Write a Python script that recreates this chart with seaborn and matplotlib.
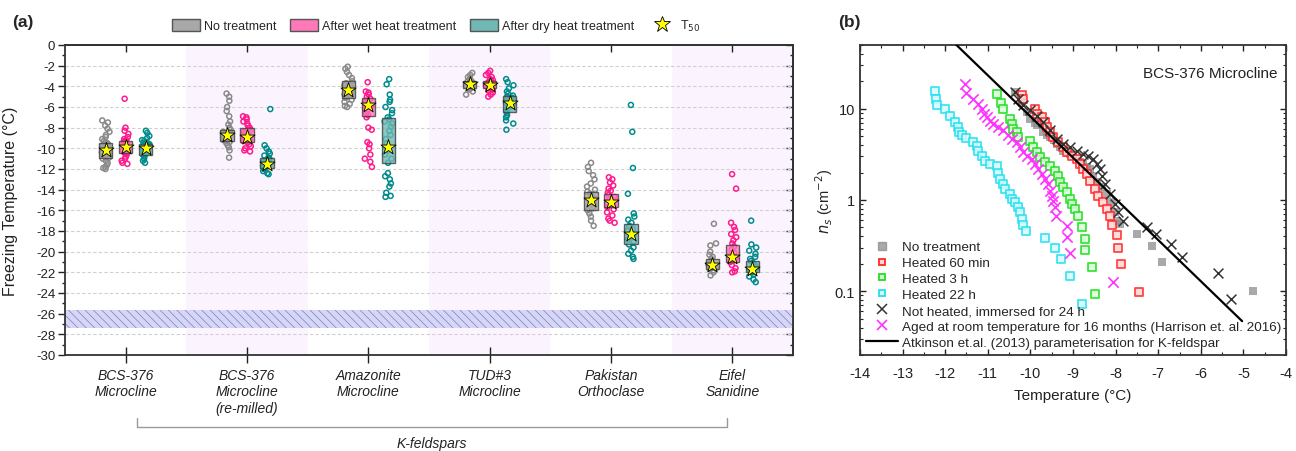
import numpy as np
import pandas as pd
import matplotlib
matplotlib.use("Agg")
import matplotlib.pyplot as plt
import seaborn as sns
from matplotlib.patches import Patch
from matplotlib.lines import Line2D
from matplotlib.ticker import MultipleLocator, FixedLocator, NullFormatter, LogLocator, FuncFormatter

sns.set_theme(style="ticks")
plt.rcParams["font.family"] = ["Liberation Sans", "DejaVu Sans"]
plt.rcParams["axes.unicode_minus"] = False
plt.rcParams["hatch.linewidth"] = 0.5
plt.rcParams["hatch.color"] = "#7878A8"

# ---------------- Panel (a) data ----------------
categories = ["BCS-376\nMicrocline", "BCS-376\nMicrocline\n(re-milled)", "Amazonite\nMicrocline",
              "TUD#3\nMicrocline", "Pakistan\nOrthoclase", "Eifel\nSanidine"]
treatments = ["No treatment", "After wet heat treatment", "After dry heat treatment"]

no_treatment = [
    [-7.3, -7.5, -7.8, -8.1, -8.4, -8.7, -8.9, -9.1, -9.3, -9.4, -9.5, -9.6, -9.7, -9.8, -9.9, -10.0,
     -10.1, -10.2, -10.3, -10.4, -10.5, -10.6, -10.7, -10.8, -10.9, -11.0, -11.2, -11.4, -11.6, -11.8, -11.9, -12.0],
    [-4.7, -5.0, -5.4, -6.0, -6.4, -6.9, -7.4, -7.7, -8.0, -8.2, -8.4, -8.5, -8.6, -8.7, -8.8, -8.9,
     -9.0, -9.1, -9.2, -9.3, -9.4, -9.5, -9.7, -9.9, -10.2, -10.9],
    [-2.1, -2.3, -2.6, -2.9, -3.2, -3.5, -3.7, -3.9, -4.0, -4.2, -4.3, -4.4, -4.5, -4.6, -4.7, -4.8,
     -4.9, -5.0, -5.1, -5.3, -5.5, -5.7, -5.9, -6.0],
    [-2.7, -2.9, -3.1, -3.3, -3.4, -3.5, -3.6, -3.7, -3.8, -3.8, -3.9, -4.0, -4.0, -4.1, -4.2, -4.3, -4.5, -4.8],
    [-11.4, -11.8, -12.2, -12.6, -13.0, -13.4, -13.7, -14.0, -14.2, -14.4, -14.6, -14.8, -14.9, -15.0,
     -15.1, -15.2, -15.4, -15.6, -15.8, -16.0, -16.3, -16.6, -17.0, -17.5],
    [-17.3, -19.2, -19.4, -20.0, -20.3, -20.5, -20.7, -20.9, -21.0, -21.1, -21.2, -21.3, -21.4, -21.5,
     -21.6, -21.7, -21.8, -22.0, -22.3],
]
wet_heat = [
    [-5.2, -8.0, -8.3, -8.6, -8.9, -9.1, -9.2, -9.3, -9.4, -9.5, -9.6, -9.7, -9.8, -9.9, -10.0, -10.1,
     -10.2, -10.3, -10.4, -10.5, -10.6, -10.8, -11.0, -11.2, -11.4, -11.5],
    [-6.9, -7.0, -7.2, -7.4, -7.6, -7.8, -8.0, -8.2, -8.4, -8.5, -8.6, -8.7, -8.8, -8.9, -9.0, -9.1,
     -9.2, -9.3, -9.4, -9.6, -9.8, -10.0, -10.2, -10.3],
    [-3.6, -4.5, -4.6, -4.8, -5.0, -5.2, -5.4, -5.5, -5.6, -5.7, -5.8, -5.9, -6.0, -6.2, -6.4, -6.6,
     -6.8, -7.0, -8.0, -8.2, -9.4, -9.6, -10.0, -10.6, -11.0, -11.3, -11.8],
    [-2.5, -2.7, -2.9, -3.1, -3.3, -3.4, -3.5, -3.6, -3.7, -3.8, -3.9, -4.0, -4.1, -4.2, -4.3, -4.4,
     -4.6, -4.8, -5.0],
    [-12.8, -13.0, -13.3, -13.6, -13.9, -14.1, -14.3, -14.5, -14.7, -14.9, -15.0, -15.1, -15.3, -15.5,
     -15.7, -15.9, -16.2, -16.5, -16.8, -17.0, -17.2],
    [-12.5, -13.9, -17.2, -17.6, -17.9, -18.3, -18.6, -18.9, -19.2, -19.5, -19.8, -20.1, -20.4, -20.6,
     -20.8, -21.0, -21.3, -21.6, -21.9, -22.0],
]
dry_heat = [
    [-8.3, -8.5, -8.8, -9.0, -9.2, -9.3, -9.4, -9.5, -9.6, -9.7, -9.8, -9.9, -10.0, -10.1, -10.2, -10.3,
     -10.4, -10.5, -10.6, -10.7, -10.8, -11.0, -11.2, -11.4],
    [-6.2, -9.7, -10.0, -10.3, -10.5, -10.7, -10.9, -11.0, -11.1, -11.2, -11.3, -11.4, -11.5, -11.6,
     -11.7, -11.8, -11.9, -12.0, -12.2, -12.4, -12.5],
    [-3.3, -3.8, -4.8, -5.3, -5.5, -6.0, -6.3, -6.6, -7.0, -7.2, -7.4, -7.6, -7.9, -8.3, -8.7, -9.1,
     -9.5, -9.9, -10.2, -10.6, -11.0, -11.4, -12.4, -12.7, -13.0, -13.4, -13.7, -14.3, -14.6, -14.7],
    [-3.3, -3.6, -3.9, -4.2, -4.5, -4.7, -4.9, -5.0, -5.1, -5.3, -5.4, -5.5, -5.6, -5.7, -5.8, -5.9,
     -6.0, -6.2, -6.4, -6.6, -6.8, -7.0, -7.3, -7.6, -8.2],
    [-5.8, -8.4, -11.9, -14.4, -16.3, -16.6, -16.9, -17.2, -17.5, -17.8, -18.0, -18.2, -18.4, -18.6,
     -18.8, -19.0, -19.3, -19.6, -19.9, -20.2, -20.5, -20.7],
    [-17.0, -19.3, -19.6, -19.9, -20.2, -20.5, -20.7, -20.9, -21.1, -21.3, -21.5, -21.6, -21.7, -21.8,
     -21.9, -22.0, -22.2, -22.4, -22.7, -22.95],
]

# box upper / lower edges and T50 for each treatment
box_upper_none = [-9.5, -8.2, -3.5, -3.5, -14.2, -20.7]
box_lower_none = [-10.95, -9.3, -5.1, -4.2, -15.95, -21.7]
box_upper_wet = [-9.3, -8.0, -5.1, -3.5, -14.4, -19.4]
box_lower_wet = [-10.45, -9.4, -6.9, -4.2, -15.7, -21.0]
box_upper_dry = [-9.6, -10.9, -7.1, -4.9, -17.3, -20.9]
box_lower_dry = [-10.6, -11.9, -11.4, -6.5, -19.3, -22.0]
t50_none = [-10.2, -8.7, -4.4, -3.8, -15.0, -21.3]
t50_wet = [-9.9, -8.9, -5.8, -3.9, -15.2, -20.5]
t50_dry = [-10.0, -11.5, -9.9, -5.6, -18.3, -21.7]

band_low, band_high = -27.4, -25.6

# ---------------- Panel (b) data ----------------
none_T = [-10.36, -10.2, -10.09, -10.0, -9.9, -9.85, -9.7, -9.6, -9.54, -9.45, -9.38, -9.3, -9.23, -9.15,
          -9.07, -8.99, -8.91, -8.83, -8.76, -8.68, -8.6, -8.52, -8.44, -8.33, -8.21, -8.09, -8.01, -7.97,
          -7.9, -7.5, -7.15, -6.92, -4.77]
none_ns = [15.4, 11.5, 9.2, 7.8, 7.0, 6.6, 5.55, 5.1, 4.88, 4.5, 4.1, 3.8, 3.48, 3.3, 3.2, 3.0, 2.82, 2.6,
           2.48, 2.3, 2.2, 1.85, 1.57, 1.38, 1.16, 0.94, 0.73, 0.59, 0.55, 0.42, 0.31, 0.21, 0.10]
h60_T = [-10.2, -10.17, -9.89, -9.85, -9.73, -9.66, -9.62, -9.54, -9.46, -9.35, -9.23, -9.15, -9.03, -8.91,
         -8.84, -8.76, -8.68, -8.6, -8.48, -8.41, -8.29, -8.2, -8.13, -8.09, -7.97, -7.94, -7.88, -7.45]
h60_ns = [14.3, 12.9, 10, 8.8, 8.1, 7.1, 6.3, 5.55, 4.88, 4.3, 3.8, 3.35, 3.07, 2.82, 2.48, 2.2, 1.93, 1.63,
          1.32, 1.11, 0.94, 0.80, 0.67, 0.53, 0.41, 0.30, 0.20, 0.099]
h3_T = [-10.79, -10.7, -10.64, -10.48, -10.44, -10.4, -10.32, -10.28, -10.0, -9.93, -9.85, -9.77, -9.66,
        -9.54, -9.42, -9.35, -9.31, -9.23, -9.15, -9.07, -9.03, -8.95, -8.88, -8.8, -8.72, -8.72, -8.56, -8.48]
h3_ns = [14.6, 11.6, 10, 7.8, 6.8, 6.0, 5.55, 4.88, 4.45, 3.8, 3.35, 2.95, 2.6, 2.38, 2.1, 1.85, 1.57, 1.38,
         1.22, 1.03, 0.91, 0.80, 0.67, 0.50, 0.37, 0.28, 0.185, 0.093]
h22_T = [-12.24, -12.22, -12.2, -12.0, -11.89, -11.77, -11.69, -11.67, -11.61, -11.5, -11.34, -11.26,
         -11.22, -11.14, -11.07, -10.96, -10.79, -10.75, -10.71, -10.65, -10.6, -10.48, -10.44, -10.36,
         -10.28, -10.24, -10.2, -10.17, -10.1, -9.66, -9.42, -9.28, -9.07, -8.8]
h22_ns = [15.5, 12.9, 11.0, 10.0, 8.4, 7.1, 6.3, 5.55, 5.1, 4.76, 4.3, 3.95, 3.48, 3.07, 2.7, 2.48, 2.38,
          2.0, 1.7, 1.5, 1.32, 1.16, 1.03, 0.94, 0.83, 0.73, 0.62, 0.53, 0.46, 0.38, 0.30, 0.225, 0.148, 0.072]
imm_T = [-10.36, -10.28, -10.17, -10.0, -9.85, -9.7, -9.54, -9.38, -9.23, -9.07, -8.91, -8.76, -8.64,
         -8.52, -8.44, -8.37, -8.33, -8.25, -8.13, -8.01, -7.94, -7.82, -7.27, -7.04, -6.71, -6.45, -5.59, -5.29]
imm_ns = [15.2, 12.9, 10.9, 9.6, 8.4, 7.1, 5.8, 4.7, 4.1, 3.8, 3.48, 3.2, 3.07, 2.82, 2.48, 2.2, 1.85, 1.5,
          1.16, 0.91, 0.73, 0.59, 0.50, 0.42, 0.33, 0.24, 0.16, 0.083]
aged_T = [-11.54, -11.5, -11.34, -11.22, -11.14, -11.1, -11.03, -10.95, -10.87, -10.75, -10.64, -10.52,
          -10.44, -10.32, -10.24, -10.17, -10.09, -9.97, -9.89, -9.81, -9.73, -9.66, -9.58, -9.54, -9.5,
          -9.46, -9.42, -9.4, -9.15, -9.13, -9.08, -8.05]
aged_ns = [18.8, 15, 12.9, 11.4, 10, 8.8, 8.1, 7.4, 6.8, 6.3, 5.78, 5.1, 4.7, 4.3, 3.8, 3.35, 3.07, 2.82,
           2.48, 2.2, 1.93, 1.7, 1.5, 1.27, 1.11, 0.98, 0.83, 0.67, 0.52, 0.39, 0.26, 0.127]
atk_T = [-12.0, -5.03]
atk_ns = [65.8, 0.047]

# ---------------- Figure ----------------
fig = plt.figure(figsize=(12.96, 4.52), dpi=100)
axa = fig.add_axes([65 / 1296, 1 - 356 / 452, 728 / 1296, 310 / 452])
axb = fig.add_axes([860 / 1296, 1 - 356 / 452, 426 / 1296, 310 / 452])

point_colors = {"No treatment": "#8A8A8A", "After wet heat treatment": "#FF1A8C",
                "After dry heat treatment": "#008B8B"}
box_colors = {"No treatment": "#A8A8A8", "After wet heat treatment": "#FF78B8",
              "After dry heat treatment": "#6FB8B4"}
offsets = [-0.165, 0.0, 0.165]

# background shading for alternate categories
for i in range(len(categories)):
    if i % 2 == 1:
        axa.axvspan(i - 0.5, i + 0.5, color="#FBF4FE", zorder=0, lw=0)
axa.axhspan(band_low, band_high, facecolor="#D6D6F8", edgecolor="#8080B0", hatch="\\\\\\\\", lw=0, zorder=1)

rows = []
for t, series, off in zip(treatments, [no_treatment, wet_heat, dry_heat], offsets):
    for i, vals in enumerate(series):
        for v in vals:
            rows.append((round(i + off, 3), v, t))
df = pd.DataFrame(rows, columns=["pos", "temp", "treatment"])

n_before = len(axa.collections)
np.random.seed(7)
sns.stripplot(data=df, x="pos", y="temp", hue="treatment", hue_order=treatments, palette=point_colors,
              native_scale=True, orient="x", jitter=0.2, size=3.6, linewidth=1.1, ax=axa,
              legend=False, zorder=3)
for coll in axa.collections[n_before:]:
    fc = coll.get_facecolors()
    if len(fc):
        coll.set_edgecolors(fc)
        coll.set_facecolors("none")

uppers = [box_upper_none, box_upper_wet, box_upper_dry]
lowers = [box_lower_none, box_lower_wet, box_lower_dry]
t50s = [t50_none, t50_wet, t50_dry]
xpos = np.arange(len(categories))
for t, up, lo, off in zip(treatments, uppers, lowers, offsets):
    up = np.array(up); lo = np.array(lo)
    axa.bar(xpos + off, up - lo, bottom=lo, width=0.11, facecolor=box_colors[t], alpha=0.8,
            edgecolor="#404040", linewidth=1.0, zorder=4)
for t50, off in zip(t50s, offsets):
    sns.scatterplot(x=xpos + off, y=t50, marker="*", s=130, color="#FFFF00", edgecolor="black",
                    linewidth=0.6, zorder=5, ax=axa, legend=False)

axa.set_xlim(-0.5, 5.5)
axa.set_ylim(-30, 0)
axa.yaxis.set_minor_locator(MultipleLocator(1))
axa.set_yticks(np.arange(-30, 1, 2))
axa.set_yticklabels([f"{v}" for v in range(-30, 1, 2)])
axa.set_xticks(xpos)
axa.set_xticklabels(categories, fontsize=10, fontstyle="italic", color="#222222")
axa.tick_params(axis="x", direction="inout", length=11, width=1.0, pad=4, colors="#222222")
axa.tick_params(axis="y", which="major", direction="out", length=5, width=1.0, labelsize=9.5, pad=2,
                colors="#222222")
axa.tick_params(axis="y", which="minor", direction="out", length=2.5, width=1.0, colors="#222222")
axa.set_xlabel("")
axa.set_ylabel("Freezing Temperature (°C)", fontsize=11.5, color="#222222")
axa.yaxis.set_label_coords(-0.064, 0.5)
for y in range(-28, 0, 2):
    axa.axhline(y, color="#D0D0D0", lw=0.8, ls=(0, (3, 2)), zorder=0.5)
for sp in axa.spines.values():
    sp.set_color("#333333"); sp.set_linewidth(1.3)

sec_top = axa.secondary_xaxis("top")
sec_top.set_xticks(xpos)
sec_top.tick_params(direction="in", length=5, width=1.0, labeltop=False, colors="#222222")
sec_right = axa.secondary_yaxis("right")
sec_right.yaxis.set_major_locator(MultipleLocator(2))
sec_right.yaxis.set_minor_locator(MultipleLocator(1))
sec_right.tick_params(which="major", direction="in", length=5, width=1.0, labelright=False, colors="#222222")
sec_right.tick_params(which="minor", direction="in", length=2.5, width=1.0, colors="#222222")

# bracket
tr = axa.get_xaxis_transform()
axa.plot([0.094, 0.094, 4.958, 4.958], [-0.203, -0.232, -0.232, -0.203], transform=tr, clip_on=False,
         color="#9A9A9A", lw=1.0)
axa.text(2.526, -0.285, "K-feldspars", transform=tr, ha="center", va="center", fontsize=10,
         fontstyle="italic", color="#222222")

handles_a = [Patch(facecolor=box_colors[t], edgecolor="#555555", lw=1.0, label=t) for t in treatments]
handles_a.append(Line2D([], [], marker="*", ls="none", markersize=12, markerfacecolor="#FFFF00",
                        markeredgecolor="black", markeredgewidth=0.6, label="T$_{50}$"))
axa.legend(handles=handles_a, loc="center", bbox_to_anchor=(0.51, 1.062), ncol=4, frameon=False,
           fontsize=9, handlelength=2.2, handleheight=1.0, columnspacing=1.1, handletextpad=0.35)

fig.text(12 / 1296, 1 - 22 / 452, "(a)", fontsize=12.5, fontweight="bold", va="center", ha="left")
fig.text(838 / 1296, 1 - 22 / 452, "(b)", fontsize=12.5, fontweight="bold", va="center", ha="left")

# ---------------- Panel (b) ----------------
axb.set_yscale("log")
sns.scatterplot(x=none_T, y=none_ns, marker="s", s=38, color="#8C8C8C", alpha=0.75, linewidth=0,
                ax=axb, legend=False, zorder=2)
sns.scatterplot(x=h60_T, y=h60_ns, marker="s", s=28, facecolor="#FFD6D6", edgecolor="#FF2A2A",
                linewidth=1.3, alpha=0.85, ax=axb, legend=False, zorder=3)
sns.scatterplot(x=h3_T, y=h3_ns, marker="s", s=28, facecolor="#D8FFD8", edgecolor="#22DD22",
                linewidth=1.3, alpha=0.85, ax=axb, legend=False, zorder=3)
sns.scatterplot(x=h22_T, y=h22_ns, marker="s", s=28, facecolor="#D8FAFF", edgecolor="#22E0F0",
                linewidth=1.3, alpha=0.85, ax=axb, legend=False, zorder=3)
sns.scatterplot(x=aged_T, y=aged_ns, marker="x", s=55, color="#FF33FF", linewidth=1.2,
                ax=axb, legend=False, zorder=4)
sns.scatterplot(x=imm_T, y=imm_ns, marker="x", s=50, color="#333333", linewidth=1.1,
                ax=axb, legend=False, zorder=4)
sns.lineplot(x=atk_T, y=atk_ns, color="black", lw=1.6, ax=axb, zorder=5)

axb.set_xlim(-14, -4)
axb.set_ylim(0.02, 50)
axb.xaxis.set_major_locator(MultipleLocator(1))
axb.xaxis.set_minor_locator(MultipleLocator(0.5))
axb.xaxis.set_major_formatter(FuncFormatter(lambda v, p: f"{v:g}"))
axb.yaxis.set_major_locator(FixedLocator([0.1, 1, 10]))
axb.yaxis.set_major_formatter(FuncFormatter(lambda v, p: f"{v:g}"))
axb.yaxis.set_minor_locator(LogLocator(base=10, subs=np.arange(2, 10)))
axb.yaxis.set_minor_formatter(NullFormatter())
axb.tick_params(which="major", direction="in", length=4.5, width=1.0, top=True, right=True,
                labelsize=10.5, colors="#222222")
axb.tick_params(axis="x", which="major", pad=8)
axb.tick_params(which="minor", direction="in", length=2.5, width=0.8, top=True, right=True,
                colors="#222222")
axb.set_xlabel("Temperature (°C)", fontsize=11, color="#222222")
axb.xaxis.set_label_coords(0.5, -0.108)
axb.set_ylabel("$n_s$ (cm$^{-2}$)", fontsize=10.5, color="#222222")
axb.yaxis.set_label_coords(-0.058, 0.5)
for sp in axb.spines.values():
    sp.set_color("#333333"); sp.set_linewidth(1.3)
axb.text(0.979, 0.91, "BCS-376 Microcline", transform=axb.transAxes, ha="right", va="center",
         fontsize=11, color="#222222")

handles_b = [
    Line2D([], [], marker="s", ls="none", markersize=5.5, color="#8C8C8C", alpha=0.75, label="No treatment"),
    Line2D([], [], marker="s", ls="none", markersize=4.8, markerfacecolor="#FFD6D6",
           markeredgecolor="#FF2A2A", markeredgewidth=1.3, label="Heated 60 min"),
    Line2D([], [], marker="s", ls="none", markersize=4.8, markerfacecolor="#D8FFD8",
           markeredgecolor="#22DD22", markeredgewidth=1.3, label="Heated 3 h"),
    Line2D([], [], marker="s", ls="none", markersize=4.8, markerfacecolor="#D8FAFF",
           markeredgecolor="#22E0F0", markeredgewidth=1.3, label="Heated 22 h"),
    Line2D([], [], marker="x", ls="none", markersize=7, color="#333333", markeredgewidth=1.1,
           label="Not heated, immersed for 24 h"),
    Line2D([], [], marker="x", ls="none", markersize=7.5, color="#FF33FF", markeredgewidth=1.2,
           label="Aged at room temperature for 16 months (Harrison et. al. 2016)"),
    Line2D([], [], color="black", lw=1.6, label="Atkinson et.al. (2013) parameterisation for K-feldspar"),
]
axb.legend(handles=handles_b, loc="lower left", bbox_to_anchor=(0.0, 0.0), frameon=False, fontsize=9.7,
           handlelength=2.4, handletextpad=0.25, labelspacing=0.26, borderaxespad=0.15, borderpad=0.3)

fig.savefig("out.png", dpi=100)
